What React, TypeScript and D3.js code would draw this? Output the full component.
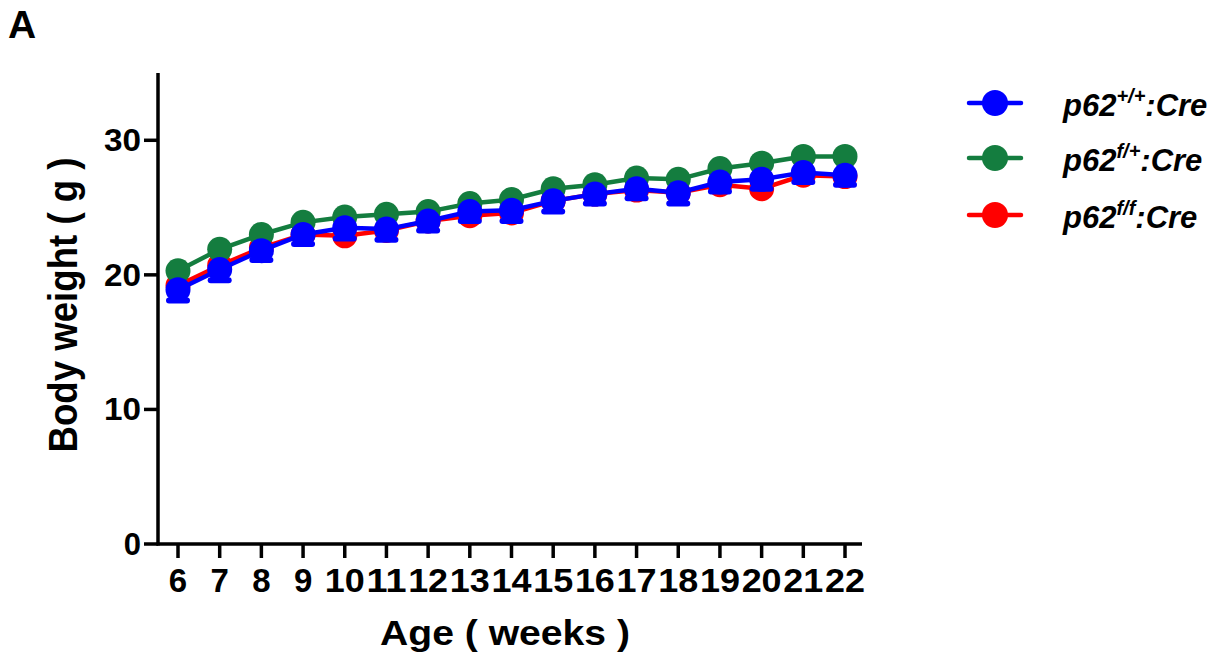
import React from "react";
import * as d3 from "d3";

const weeks = [6, 7, 8, 9, 10, 11, 12, 13, 14, 15, 16, 17, 18, 19, 20, 21, 22];
const wildType = [18.9, 20.4, 21.8, 23.0, 23.5, 23.4, 24.0, 24.7, 24.8, 25.5, 26.0, 26.4, 26.1, 26.9, 27.1, 27.6, 27.4];
const wildTypeSem = [0.8, 0.8, 0.7, 0.7, 0.8, 0.8, 0.7, 0.7, 0.8, 0.8, 0.7, 0.7, 0.8, 0.7, 0.7, 0.7, 0.7];
const heterozygous = [20.3, 21.9, 23.0, 23.9, 24.3, 24.5, 24.7, 25.3, 25.6, 26.4, 26.7, 27.2, 27.1, 27.9, 28.3, 28.8, 28.8];
const homozygous = [19.2, 20.7, 22.0, 23.0, 22.9, 23.3, 24.0, 24.4, 24.6, 25.5, 26.0, 26.3, 26.1, 26.7, 26.4, 27.4, 27.3];
const yTicks = [0, 10, 20, 30];

const series = [
  { key: "ff", values: homozygous, sem: null as number[] | null, color: "#ff0000" },
  { key: "f+", values: heterozygous, sem: null as number[] | null, color: "#147d3f" },
  { key: "++", values: wildType, sem: wildTypeSem, color: "#0000ff" },
];

const legendItems = [
  { sup: "+/+", color: "#0000ff" },
  { sup: "f/+", color: "#147d3f" },
  { sup: "f/f", color: "#ff0000" },
];

export default function App() {
  const W = 1230, H = 654;
  const x = d3.scaleLinear().domain([6, 22]).range([178, 845]);
  const y = d3.scaleLinear().domain([0, 35]).range([544, 73]);
  const line = d3.line<number>().x((_, i) => x(weeks[i])).y((d) => y(d));
  const font = "'Liberation Sans', Arial, Helvetica, sans-serif";
  const axisY0 = 544, axisX0 = 158;
  const legendY = [103, 158, 215];
  return (
    <svg width={W} height={H} style={{ position: "absolute", left: 0, top: 0 }} fontFamily={font}>
      <rect width={W} height={H} fill="#fff" />
      <text x={8} y={38} fontSize={39} fontWeight="bold">A</text>
      {/* axes */}
      <line x1={axisX0} x2={axisX0} y1={y(35)} y2={axisY0 + 1.5} stroke="#000" strokeWidth={3.5} />
      <line x1={axisX0 - 1.5} x2={862} y1={axisY0} y2={axisY0} stroke="#000" strokeWidth={3.5} />
      {yTicks.map((t) => (
        <g key={t}>
          <line x1={144} x2={axisX0} y1={y(t)} y2={y(t)} stroke="#000" strokeWidth={3.5} />
          <text x={141} y={y(t) + 11} fontSize={31} fontWeight="bold" textAnchor="end" textLength={t === 0 ? undefined : 37} lengthAdjust="spacingAndGlyphs">{t}</text>
        </g>
      ))}
      {weeks.map((w) => (
        <g key={w}>
          <line x1={x(w)} x2={x(w)} y1={axisY0} y2={axisY0 + 14} stroke="#000" strokeWidth={3.5} />
          <text x={x(w)} y={592} fontSize={33} fontWeight="bold" textAnchor="middle" textLength={w >= 10 ? 40 : undefined} lengthAdjust="spacingAndGlyphs">{w}</text>
        </g>
      ))}
      <text x={505} y={645} fontSize={35} fontWeight="bold" textAnchor="middle" textLength={250} lengthAdjust="spacingAndGlyphs">Age ( weeks )</text>
      <text transform={`translate(77,305) rotate(-90)`} fontSize={40} fontWeight="bold" textAnchor="middle" textLength={295} lengthAdjust="spacingAndGlyphs">Body weight ( g )</text>
      {/* series */}
      {series.map((s) => (
        <g key={s.key}>
          <path d={line(s.values) || ""} fill="none" stroke={s.color} strokeWidth={4.5} />
          {s.sem && s.values.map((v, i) => (
            <g key={i}>
              <line x1={x(weeks[i])} x2={x(weeks[i])} y1={y(v)} y2={y(v - s.sem![i])} stroke={s.color} strokeWidth={5} />
              <line x1={x(weeks[i]) - 9} x2={x(weeks[i]) + 9} y1={y(v - s.sem![i])} y2={y(v - s.sem![i])} stroke={s.color} strokeWidth={6} strokeLinecap="round" />
            </g>
          ))}
          {s.values.map((v, i) => (
            <circle key={i} cx={x(weeks[i])} cy={y(v)} r={12.5} fill={s.color} />
          ))}
        </g>
      ))}
      {/* legend */}
      {legendItems.map((it, i) => {
        const cy = legendY[i];
        return (
          <g key={it.sup}>
            <line x1={969} x2={1021} y1={cy} y2={cy} stroke={it.color} strokeWidth={4.5} strokeLinecap="round" />
            <circle cx={995} cy={cy} r={13} fill={it.color} />
            <text x={1063} y={cy + 13} fontSize={31} fontWeight="bold" fontStyle="italic">
              p62<tspan fontSize={20} dy={-13}>{it.sup}</tspan><tspan dy={13}>:Cre</tspan>
            </text>
          </g>
        );
      })}
    </svg>
  );
}
